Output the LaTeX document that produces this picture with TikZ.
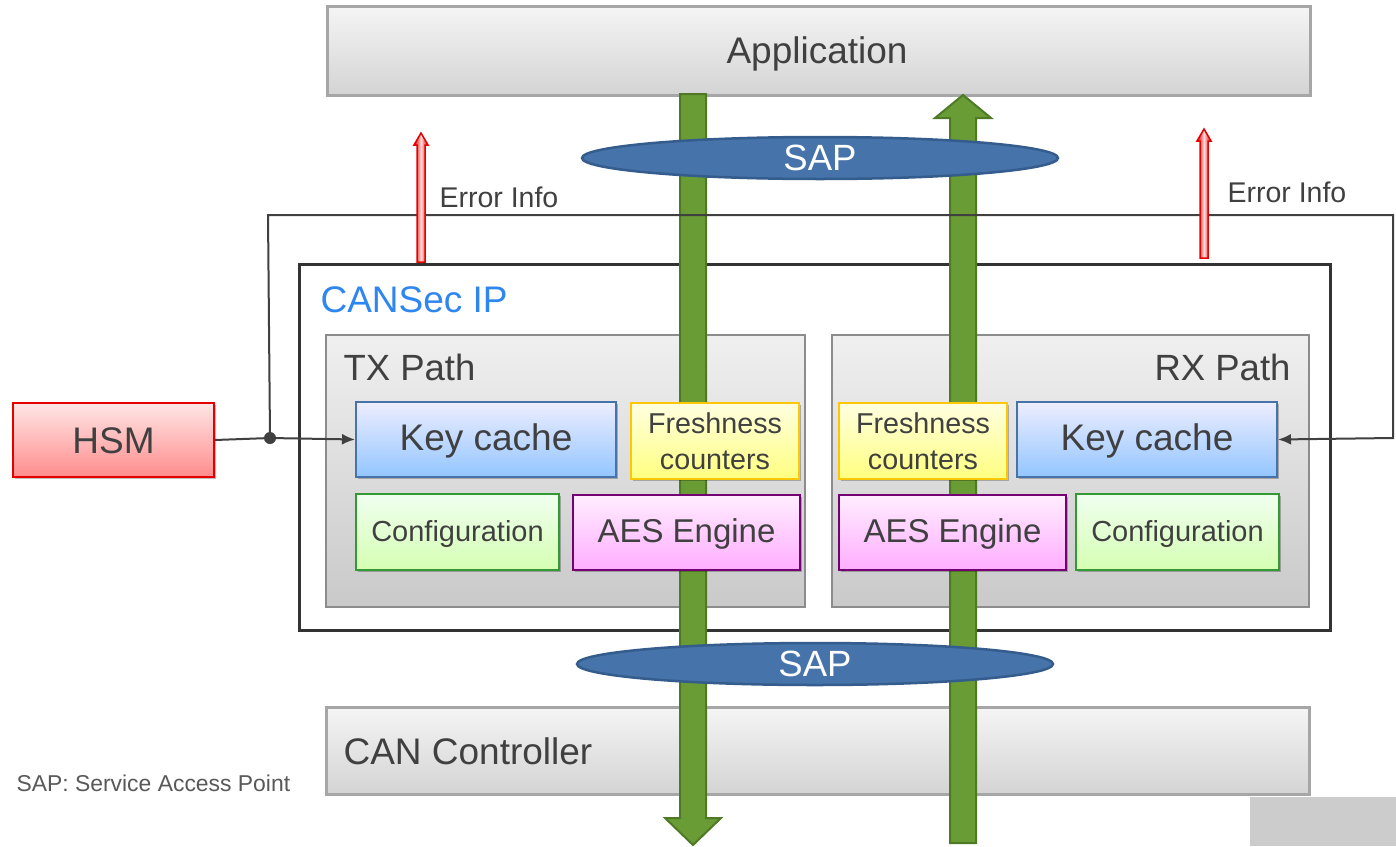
\documentclass[tikz,border=0pt]{standalone}
\usepackage{fontspec}
\setmainfont{Liberation Sans}
\usetikzlibrary{shadows,arrows.meta,shapes.geometric}
\definecolor{txt}{HTML}{404040}
\definecolor{grn}{HTML}{6A9C35}
\definecolor{grnd}{HTML}{4E7A25}
\definecolor{sapf}{HTML}{4673AA}
\definecolor{sapd}{HTML}{345C8C}
\definecolor{cansec}{HTML}{2E86F0}
\tikzset{
  every node/.style={text=txt},
  shd/.style={drop shadow={shadow xshift=2pt,shadow yshift=-2pt,opacity=0.25,fill=black}},
  layerbox/.style={draw=black!35,line width=2.5pt,top color=black!4,bottom color=black!17,anchor=north west,inner sep=0pt},
  pathbox/.style={draw=black!45,line width=1.8pt,top color=black!6,bottom color=black!21,anchor=north west,inner sep=0pt},
  keybox/.style={shd,draw=sapf,line width=2pt,top color=blue!7!white,bottom color=blue!28!white!80!cyan,anchor=north west,inner sep=0pt,text height=30pt,text depth=8pt,font=\fontsize{37}{44}\selectfont},
  freshbox/.style={shd,draw=yellow!80!red,line width=2pt,top color=yellow!12!white,bottom color=yellow!50!white,anchor=north west,inner sep=0pt,align=center,font=\fontsize{28.7}{36}\selectfont},
  cfgbox/.style={shd,draw=green!50!black!80,line width=2pt,top color=green!6!white,bottom color=green!55!yellow!30!white,anchor=north west,inner sep=0pt,text height=24pt,text depth=6pt,font=\fontsize{29}{35}\selectfont},
  aesbox/.style={shd,draw=violet!70!magenta!70!black,line width=2pt,top color=magenta!7!white,bottom color=magenta!32!white,anchor=north west,inner sep=0pt,text height=27pt,text depth=7pt,font=\fontsize{33}{40}\selectfont},
  hsmbox/.style={shd,draw=red!90!black,line width=2pt,top color=red!10!white,bottom color=red!45!white,anchor=north west,inner sep=0pt,text height=29pt,text depth=3pt,font=\fontsize{37}{44}\selectfont},
  sapell/.style={ellipse,draw=sapd,line width=2.5pt,fill=sapf,text=white,inner sep=0pt,font=\fontsize{36.5}{44}\selectfont},
  bigarrow/.style={fill=grn,draw=grnd,line width=2pt,line join=miter},
  errarrow/.style={draw=red!90!black,line width=1.5pt,left color=red!85!black,right color=red!85!black,middle color=red!15!white},
  wire/.style={draw=txt,line width=2pt},
  tip/.style={-{Latex[length=13pt,width=11pt]}},
}
\begin{document}
\begin{tikzpicture}[x=1pt,y=-1pt]
\useasboundingbox (0,0) rectangle (1396,846);
\fill[white] (0,0) rectangle (1396,846);
\fill[black!20] (1250,797) rectangle (1396,846);
% layers
\node[layerbox,minimum width=983pt,minimum height=89pt] (app) at (326,5) {};
\node[font=\fontsize{37}{44}\selectfont] at (817,54) {Application};
\node[layerbox,minimum width=983pt,minimum height=87pt] (can) at (325,706) {};
\node[font=\fontsize{37}{44}\selectfont,anchor=west] at (340,751) {CAN Controller};
% CANSec IP
\node[draw=black!80,line width=3pt,anchor=north west,minimum width=1031pt,minimum height=366pt,inner sep=0pt] (ip) at (298,263) {};
\node[text=cansec,anchor=west,font=\fontsize{37}{44}\selectfont] at (317,300) {CANSec IP};
% paths
\node[pathbox,minimum width=479pt,minimum height=272pt] (tx) at (325,334) {};
\node[anchor=west,font=\fontsize{36.5}{44}\selectfont] at (340,367) {TX Path};
\node[pathbox,minimum width=477pt,minimum height=272pt] (rx) at (831,334) {};
\node[anchor=east,font=\fontsize{36.5}{44}\selectfont] at (1294,367) {RX Path};
% green arrows
\coordinate (dtop) at (693,94);
\coordinate (dtip) at (693,845);
\path[bigarrow] (680,94) -- (706,94) -- (706,818) -- (721,818) -- (dtip) -- (665,818) -- (680,818) -- cycle;
\coordinate (utip) at (963,95);
\path[bigarrow] (950,843) -- (950,118) -- (935,118) -- (utip) -- (991,118) -- (976,118) -- (976,843) -- cycle;
% inner blocks
\node[keybox,minimum width=260pt,minimum height=75pt] (txkey) at (355,401) {Key cache};
\node[freshbox,minimum width=168pt,minimum height=76pt] (txfr) at (630,402) {Freshness\\counters};
\node[cfgbox,minimum width=203pt,minimum height=76pt] (txcfg) at (355,493) {Configuration};
\node[aesbox,minimum width=227pt,minimum height=75pt] (txaes) at (572,494) {AES Engine};
\node[freshbox,minimum width=168pt,minimum height=76pt] (rxfr) at (838,402) {Freshness\\counters};
\node[keybox,minimum width=260pt,minimum height=75pt] (rxkey) at (1016,401) {Key cache};
\node[aesbox,minimum width=227pt,minimum height=75pt] (rxaes) at (838,494) {AES Engine};
\node[cfgbox,minimum width=203pt,minimum height=76pt] (rxcfg) at (1075,493) {Configuration};
\node[hsmbox,minimum width=201pt,minimum height=74pt] (hsm) at (12,402) {HSM};
% SAP ellipses
\node[sapell,minimum width=476pt,minimum height=42pt] (sap1) at (820,158) {SAP};
\node[sapell,minimum width=476pt,minimum height=42pt] (sap2) at (815,664) {SAP};
% wires
\coordinate (j) at (270,438);
\coordinate (c1) at (268,215);
\coordinate (c2) at (1393,215);
\coordinate (c3) at (1393,438);
\draw[wire] (hsm.east) -- (j);
\draw[wire,tip] (j) -- (txkey.west);
\draw[wire,tip] (j) -- (c1) -- (c2) -- (c3) -- (rxkey.east);
\fill[txt] (j) circle (6pt);
% error arrows
\path[errarrow] (417,262) -- (417,145) -- (414,145) -- (421,133) -- (428,145) -- (425,145) -- (425,262) -- cycle;
\path[errarrow] (1200,258) -- (1200,141) -- (1197,141) -- (1204,129) -- (1211,141) -- (1208,141) -- (1208,258) -- cycle;
\node[anchor=west,font=\fontsize{28.5}{34}\selectfont] (e1) at (436,197) {Error Info};
\node[anchor=west,font=\fontsize{28.5}{34}\selectfont] (e2) at (1224,192) {Error Info};
% legend
\node[anchor=west,text=black!65,font=\fontsize{22.9}{28}\selectfont] (leg) at (13,783) {SAP: Service Access Point};
\end{tikzpicture}
\end{document}
